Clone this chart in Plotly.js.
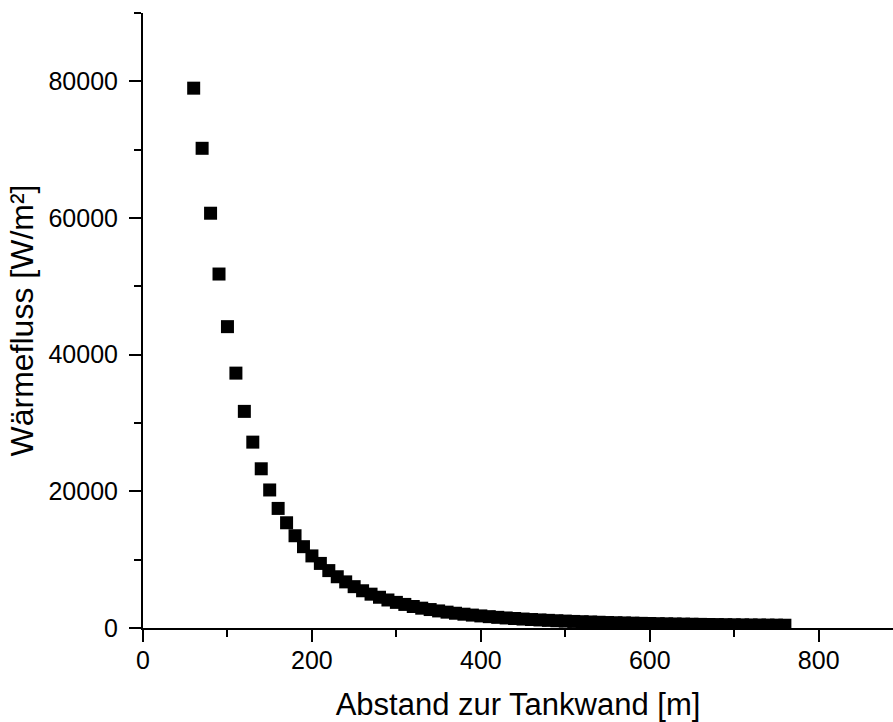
<!DOCTYPE html>
<html>
<head>
<meta charset="utf-8">
<script src="https://cdn.plot.ly/plotly-3.0.1.min.js"></script>
<style>
  html, body { margin: 0; padding: 0; background: #fff; }
  #chart { width: 893px; height: 722px; }
</style>
</head>
<body>
<div id="chart"></div>
<script>
// Distance from tank wall [m]
const abstand = [
  60, 70, 80, 90, 100, 110, 120, 130, 140, 150,
  160, 170, 180, 190, 200, 210, 220, 230, 240, 250,
  260, 270, 280, 290, 300, 310, 320, 330, 340, 350,
  360, 370, 380, 390, 400, 410, 420, 430, 440, 450,
  460, 470, 480, 490, 500, 510, 520, 530, 540, 550,
  560, 570, 580, 590, 600, 610, 620, 630, 640, 650,
  660, 670, 680, 690, 700, 710, 720, 730, 740, 750, 760
];
// Heat flux [W/m²]
const waermefluss = [
  79000, 70200, 60700, 51800, 44100, 37300, 31700, 27200, 23300, 20200,
  17500, 15400, 13500, 11900, 10550, 9450, 8400, 7500, 6750, 6050,
  5450, 4950, 4500, 4100, 3750, 3450, 3150, 2900, 2700, 2500,
  2320, 2160, 2020, 1890, 1770, 1660, 1560, 1470, 1390, 1310,
  1240, 1180, 1120, 1060, 1010, 960, 920, 880, 840, 800,
  770, 740, 710, 680, 655, 630, 610, 590, 570, 550,
  530, 515, 500, 485, 470, 455, 445, 435, 425, 415, 405
];
const xTickVals = [0, 200, 400, 600, 800];
const yTickVals = [0, 20000, 40000, 60000, 80000];
const xTitle = "Abstand zur Tankwand [m]";
const yTitle = "Wärmefluss [W/m²]";

const FONT = "Liberation Sans, Arial, sans-serif";

const trace = {
  x: abstand,
  y: waermefluss,
  type: "scatter",
  mode: "markers",
  marker: { symbol: "square", size: 13, color: "#000000", line: { width: 0 } },
  hoverinfo: "x+y"
};

const axisCommon = {
  showline: true,
  linecolor: "#000",
  linewidth: 2,
  ticks: "outside",
  ticklen: 12,
  tickwidth: 2,
  tickcolor: "#000",
  showgrid: false,
  zeroline: false,
  tickfont: { family: FONT, size: 25, color: "#000" },
  automargin: false,
  mirror: false
};

const layout = {
  width: 893,
  height: 722,
  margin: { l: 143, r: 0, t: 13, b: 94 },
  paper_bgcolor: "#fff",
  plot_bgcolor: "#fff",
  showlegend: false,
  font: { family: FONT, color: "#000" },
  xaxis: Object.assign({}, axisCommon, {
    range: [0, 888],
    tickmode: "array",
    tickvals: xTickVals,
    ticktext: xTickVals.map(String),
    ticklabelstandoff: -3,
    minor: { dtick: 100, tick0: 0, ticks: "outside", ticklen: 7, tickwidth: 2, tickcolor: "#000", showgrid: false },
    title: { text: xTitle, font: { family: FONT, size: 31, color: "#000" }, standoff: 23 }
  }),
  yaxis: Object.assign({}, axisCommon, {
    range: [0, 90000],
    tickmode: "array",
    tickvals: yTickVals,
    ticktext: yTickVals.map(String),
    ticklabelstandoff: 6,
    minor: { dtick: 10000, tick0: 0, ticks: "outside", ticklen: 7, tickwidth: 2, tickcolor: "#000", showgrid: false },
    title: { text: yTitle, font: { family: FONT, size: 32, color: "#000" }, standoff: 5 }
  })
};

Plotly.newPlot("chart", [trace], layout, { displayModeBar: false, staticPlot: false });
</script>
</body>
</html>
